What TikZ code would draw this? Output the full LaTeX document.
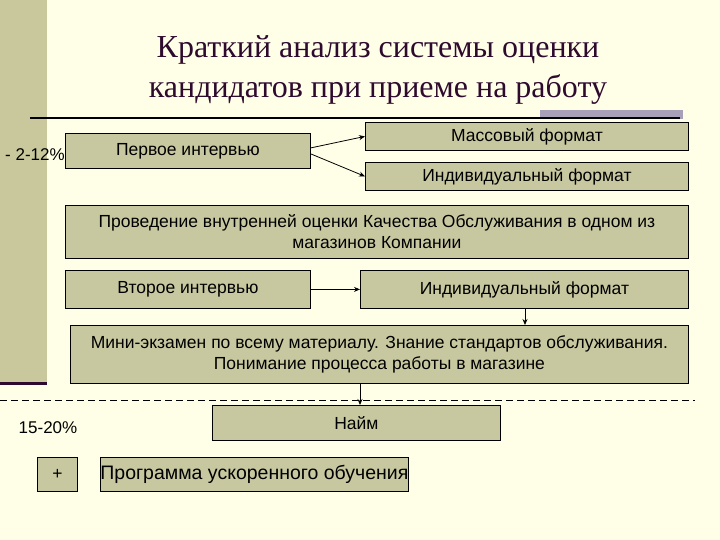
\documentclass[tikz,border=0pt]{standalone}
\usepackage{fontspec}
\setmainfont{Liberation Sans}
\newfontfamily\titlefont{Liberation Serif}
\usetikzlibrary{arrows.meta}
\definecolor{bg}{HTML}{FFFFE8}
\definecolor{band}{HTML}{C8C89C}
\definecolor{boxf}{HTML}{C8C8A0}
\definecolor{plum}{HTML}{2E0A2E}
\definecolor{lilac}{HTML}{A8A0B8}
\tikzset{
 bx/.style={draw=black, fill=boxf, line width=0.8pt, inner sep=0pt, align=center, font=\fontsize{17.5}{21}\selectfont},
 arr/.style={-{Stealth[length=6pt,width=5pt]}, line width=0.8pt},
 lbl/.style={font=\fontsize{17}{20}\selectfont}
}
\begin{document}
\begin{tikzpicture}[x=1pt,y=-1pt]
\useasboundingbox (0,0) rectangle (720,540);
\fill[bg] (0,0) rectangle (720,540);
\fill[band] (0,0) rectangle (47,383);
\fill[lilac] (540,110) rectangle (683,119);
\draw[plum, line width=3pt] (0,383) -- (47,383);
\draw[line width=1.3pt] (30,118) -- (680,118);
\node[font=\titlefont\fontsize{32}{40}\selectfont, text=plum, align=center] (title) at (378,70) {Краткий анализ системы оценки\\кандидатов при приеме на работу};
\node[bx, minimum width=245pt, minimum height=35pt, anchor=north west] (p1) at (65,133) {Первое интервью};
\node[bx, minimum width=323pt, minimum height=28pt, anchor=north west] (m) at (365,122) {Массовый формат};
\node[bx, minimum width=323pt, minimum height=28pt, anchor=north west] (i1) at (365,162) {Индивидуальный формат};
\node[bx, minimum width=623pt, minimum height=53pt, anchor=north west] (q) at (65,205) {Проведение внутренней оценки Качества Обслуживания в одном из\\магазинов Компании};
\node[bx, minimum width=245pt, minimum height=38pt, anchor=north west] (p2) at (65,270) {Второе интервью};
\node[bx, minimum width=328pt, minimum height=38pt, anchor=north west] (i2) at (360,270) {Индивидуальный формат};
\node[bx, minimum width=618pt, minimum height=58pt, anchor=north west] (ex) at (70,325) {Мини-экзамен по всему материалу. Знание стандартов обслуживания.\\Понимание процесса работы в магазине};
\node[bx, minimum width=288pt, minimum height=35pt, anchor=north west] (h) at (212,405) {Найм};
\node[bx, minimum width=40pt, minimum height=34pt, anchor=north west] (plus) at (37,457) {+};
\node[bx, minimum width=288pt, minimum height=34pt, anchor=north west, font=\fontsize{19.5}{23}\selectfont] (pr) at (100,457) {Программа ускоренного обучения};
\node[lbl] (l1) at (35,155) {- 2-12\%};
\node[lbl] (l2) at (48,428) {15-20\%};
\draw[dashed, dash pattern=on 7pt off 4pt, line width=0.8pt] (0,400) -- (695,400);
\draw[arr] (p1.east) ++(0,-3) coordinate (a1) (a1) -- (m.west);
\draw[arr] (p1.east) ++(0,3) coordinate (a2) (a2) -- (i1.west);
\draw[arr] (p2) -- (i2);
\draw[arr] (i2.south -| 525,0) coordinate (b1) -- (b1 |- ex.north);
\draw[arr] (ex.south -| 360,0) coordinate (b2) -- (b2 |- h.north);
\end{tikzpicture}
\end{document}
